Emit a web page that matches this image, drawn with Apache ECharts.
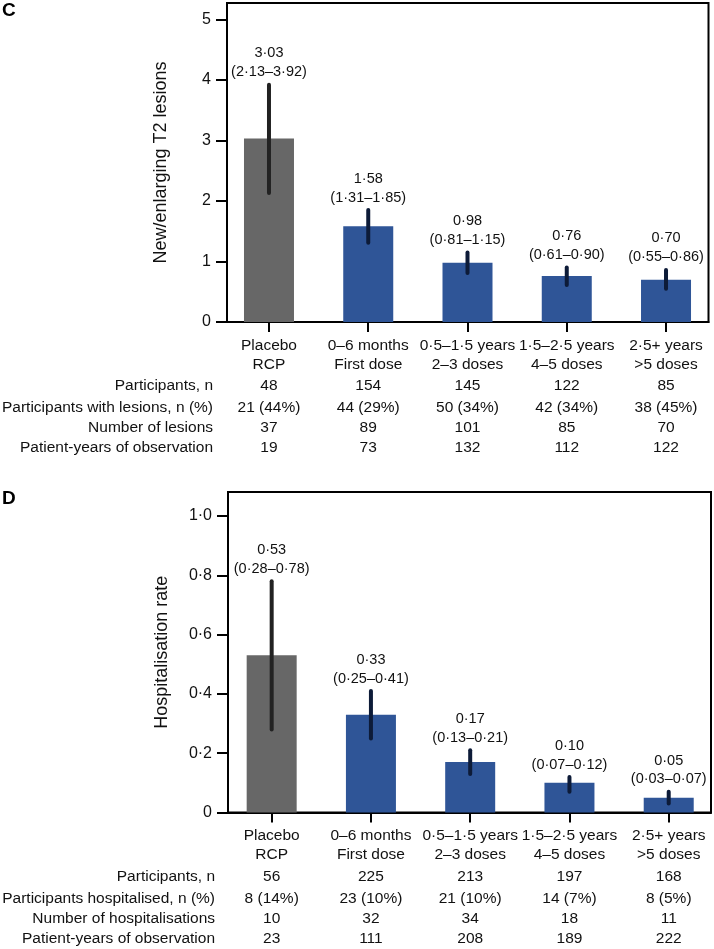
<!DOCTYPE html>
<html>
<head>
<meta charset="utf-8">
<script src="https://cdn.jsdelivr.net/npm/echarts@6/dist/echarts.min.js"></script>
<style>
html,body{margin:0;padding:0;background:#fff;}
#chart{width:714px;height:949px;}
</style>
</head>
<body>
<div id="chart"></div>
<script>
// ---- Data ----
const catLine1 = ['Placebo', '0–6 months', '0·5–1·5 years', '1·5–2·5 years', '2·5+ years'];
const catLine2 = ['RCP', 'First dose', '2–3 doses', '4–5 doses', '>5 doses'];

// Panel C
const lesionRate  = [3.03, 1.58, 0.98, 0.76, 0.70];
const lesionLower = [2.13, 1.31, 0.81, 0.61, 0.55];
const lesionUpper = [3.92, 1.85, 1.15, 0.90, 0.86];
const cRowHeads = ['Participants, n', 'Participants with lesions, n (%)', 'Number of lesions', 'Patient-years of observation'];
const cParticipants = ['48', '154', '145', '122', '85'];
const cWithLesions  = ['21 (44%)', '44 (29%)', '50 (34%)', '42 (34%)', '38 (45%)'];
const cNumLesions   = ['37', '89', '101', '85', '70'];
const cPatientYears = ['19', '73', '132', '112', '122'];
const cYTicks = [0, 1, 2, 3, 4, 5];

// Panel D
const hospRate  = [0.53, 0.33, 0.17, 0.10, 0.05];
const hospLower = [0.28, 0.25, 0.13, 0.07, 0.03];
const hospUpper = [0.78, 0.41, 0.21, 0.12, 0.07];
const dRowHeads = ['Participants, n', 'Participants hospitalised, n (%)', 'Number of hospitalisations', 'Patient-years of observation'];
const dParticipants = ['56', '225', '213', '197', '168'];
const dHospitalised = ['8 (14%)', '23 (10%)', '21 (10%)', '14 (7%)', '8 (5%)'];
const dNumHosp      = ['10', '32', '34', '18', '11'];
const dPatientYears = ['23', '111', '208', '189', '222'];
const dYTicks = [0, 0.2, 0.4, 0.6, 0.8, 1.0];

// ---- Styles ----
const FONT = '"Liberation Sans", Arial, Helvetica, sans-serif';
const GREY = '#676767', BLUE = '#2f5597';
const ERR_GREY = '#222222', ERR_BLUE = '#0d1b38';
const TXT = '#111';
const TFS = 15.5;
const catIdx = [0, 1, 2, 3, 4];

function dot(s) { return String(s).replace(/\./g, '·'); }

function xLabelFormatter(rows) {
  return function (v) {
    const i = Math.round(v);
    return '{c|' + catLine1[i] + '}\n{c|' + catLine2[i] + '}\n{t1|' + rows[0][i] + '}\n{t|' + rows[1][i] + '}\n{t|' + rows[2][i] + '}\n{t|' + rows[3][i] + '}';
  };
}
const richStyles = {
  c: { fontSize: TFS, lineHeight: 19, fontFamily: FONT, color: TXT },
  t1: { fontSize: TFS, lineHeight: 24, fontFamily: FONT, color: TXT },
  t: { fontSize: TFS, lineHeight: 20, fontFamily: FONT, color: TXT }
};

function xAxisCfg(gridIndex, min, max, rows) {
  return {
    type: 'value', gridIndex: gridIndex, min: min, max: max,
    splitLine: { show: false },
    axisLine: { show: true, onZero: false, lineStyle: { color: '#000', width: 2 } },
    axisTick: { show: true, customValues: catIdx, length: 10, lineStyle: { color: '#000', width: 2 } },
    axisLabel: { show: true, customValues: catIdx, margin: 14, formatter: xLabelFormatter(rows), rich: richStyles, fontFamily: FONT, fontSize: TFS, color: TXT }
  };
}
function yAxisCfg(gridIndex, max, ticks, name, fmt) {
  return {
    type: 'value', gridIndex: gridIndex, min: 0, max: max,
    name: name, nameLocation: 'middle', nameGap: 57,
    nameTextStyle: { fontFamily: FONT, fontSize: 18, color: TXT },
    splitLine: { show: false },
    axisLine: { show: true, onZero: false, lineStyle: { color: '#000', width: 2 } },
    axisTick: { show: true, customValues: ticks, length: 11, lineStyle: { color: '#000', width: 2 } },
    axisLabel: { show: true, customValues: ticks, margin: 16, formatter: fmt, fontFamily: FONT, fontSize: 16, color: TXT }
  };
}

function barSeries(xi, yi, vals) {
  return {
    type: 'bar', xAxisIndex: xi, yAxisIndex: yi, barWidth: 50,
    data: vals.map((v, i) => [i, v]),
    itemStyle: { color: p => p.dataIndex === 0 ? GREY : BLUE },
    z: 2
  };
}
function errSeries(xi, yi, lo, hi, mean, lineH) {
  return {
    type: 'custom', xAxisIndex: xi, yAxisIndex: yi, z: 5,
    data: mean.map((m, i) => [i, lo[i], hi[i], m]),
    encode: { x: 0, y: [1, 2] },
    renderItem: function (params, api) {
      const x = api.value(0), l = api.value(1), h = api.value(2), m = api.value(3);
      const pLo = api.coord([x, l]), pHi = api.coord([x, h]);
      const col = params.dataIndex === 0 ? ERR_GREY : ERR_BLUE;
      return {
        type: 'group',
        children: [
          { type: 'line', shape: { x1: pLo[0], y1: pLo[1], x2: pHi[0], y2: pHi[1] },
            style: { stroke: col, lineWidth: 4, lineCap: 'round' } },
          { type: 'text', style: {
              text: dot(m.toFixed(2)) + '\n(' + dot(l.toFixed(2)) + '–' + dot(h.toFixed(2)) + ')',
              x: pHi[0], y: pHi[1] - 3, align: 'center', verticalAlign: 'bottom',
              fontFamily: FONT, fontSize: 14.5, lineHeight: lineH, fill: TXT } }
        ]
      };
    }
  };
}

const chart = echarts.init(document.getElementById('chart'), null, { renderer: 'canvas' });
const option = {
  backgroundColor: '#fff',
  animation: false,
  grid: [
    { left: 227, top: 3, right: 5.5, height: 319, show: true, borderColor: '#000', borderWidth: 2, backgroundColor: 'transparent', outerBoundsMode: 'none' },
    { left: 228, top: 492, right: 3, height: 320.5, show: true, borderColor: '#000', borderWidth: 2, backgroundColor: 'transparent', outerBoundsMode: 'none' }
  ],
  xAxis: [
    xAxisCfg(0, -0.423, 4.428, [cParticipants, cWithLesions, cNumLesions, cPatientYears]),
    xAxisCfg(1, -0.44, 4.426, [dParticipants, dHospitalised, dNumHosp, dPatientYears])
  ],
  yAxis: [
    yAxisCfg(0, 5.27, cYTicks, 'New/enlarging T2 lesions', v => String(v)),
    yAxisCfg(1, 1.081, dYTicks, 'Hospitalisation rate', v => v === 0 ? '0' : dot(v.toFixed(1)))
  ],
  series: [
    barSeries(0, 0, lesionRate),
    errSeries(0, 0, lesionLower, lesionUpper, lesionRate, 19),
    barSeries(1, 1, hospRate),
    errSeries(1, 1, hospLower, hospUpper, hospRate, 18.5)
  ]
};
chart.setOption(option);

// Row headers and panel letters, positioned from the axes
function rowHeadGraphics(gridIndex, heads, rightX) {
  const axisY = chart.convertToPixel({ gridIndex: gridIndex }, [0, 0])[1];
  const top = axisY + 14 + 38;
  const centers = [top + 12, top + 24 + 10, top + 44 + 10, top + 64 + 10];
  return heads.map((h, i) => ({
    type: 'text', x: rightX, y: centers[i],
    style: { text: h, align: 'right', verticalAlign: 'middle', fontFamily: FONT, fontSize: TFS, fill: TXT }
  }));
}
chart.setOption({
  graphic: [
    { type: 'text', x: 2, y: 11, style: { text: 'C', fontFamily: FONT, fontWeight: 'bold', fontSize: 19, fill: '#000', verticalAlign: 'middle' } },
    { type: 'text', x: 2, y: 499, style: { text: 'D', fontFamily: FONT, fontWeight: 'bold', fontSize: 19, fill: '#000', verticalAlign: 'middle' } }
  ].concat(rowHeadGraphics(0, cRowHeads, 213)).concat(rowHeadGraphics(1, dRowHeads, 215))
});
</script>
</body>
</html>
